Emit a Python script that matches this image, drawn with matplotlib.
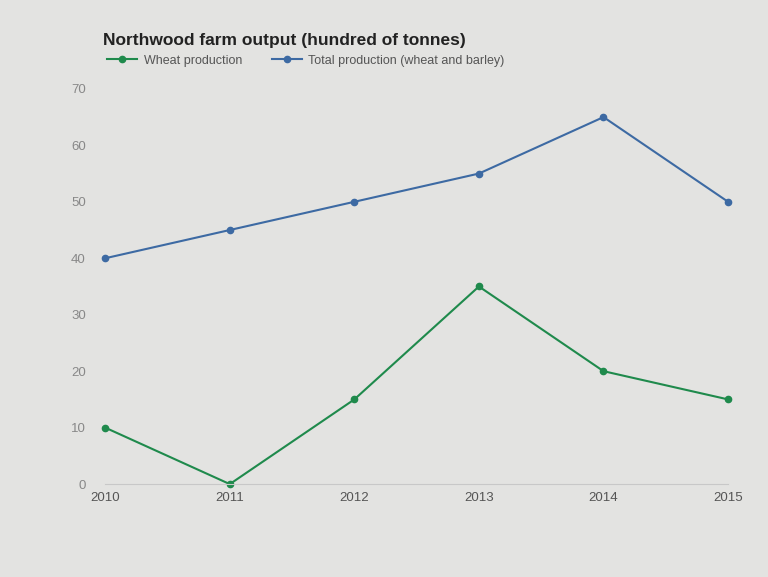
import matplotlib.pyplot as plt
from matplotlib.lines import Line2D

plt.rcParams['font.family'] = ['Liberation Sans', 'DejaVu Sans']

years = [2010, 2011, 2012, 2013, 2014, 2015]
wheat = [10, 0, 15, 35, 20, 15]
total = [40, 45, 50, 55, 65, 50]
yticks = [0, 10, 20, 30, 40, 50, 60, 70]

green = '#1f8a4c'
blue = '#3d6aa3'
bg = '#e3e3e1'

fig = plt.figure(figsize=(7.68, 5.77), dpi=100, facecolor=bg)
ax = fig.add_axes([0.137, 0.161, 0.811, 0.685], facecolor=bg)

ax.plot(years, wheat, color=green, lw=1.5, marker='o', ms=4.5, clip_on=False)
ax.plot(years, total, color=blue, lw=1.5, marker='o', ms=4.5, clip_on=False)

ax.set_xlim(2010, 2015)
ax.set_ylim(0, 70)
ax.set_yticks(yticks)
ax.set_xticks(years)
ax.set_xticklabels([str(y) for y in years])

for s in ['top', 'right', 'left']:
    ax.spines[s].set_visible(False)
ax.spines['bottom'].set_color('#c8c8c8')
ax.tick_params(length=0, labelsize=9.5, colors='#555555')
ax.tick_params(axis='y', pad=14)
ax.tick_params(axis='x', pad=6)
for lab in ax.get_yticklabels():
    lab.set_color('#888888')

fig.text(0.134, 0.93, 'Northwood farm output (hundred of tonnes)',
         fontsize=12.5, fontweight='bold', color='#222222', va='center')

handles = [Line2D([0], [0], color=green, lw=1.5, marker='o', ms=4.5),
           Line2D([0], [0], color=blue, lw=1.5, marker='o', ms=4.5)]
fig.legend(handles, ['Wheat production', 'Total production (wheat and barley)'],
           loc='center left', bbox_to_anchor=(0.125, 0.895), ncol=2, frameon=False,
           fontsize=9, handlelength=2.4, handletextpad=0.5, columnspacing=2.4,
           labelcolor='#555555')

plt.savefig('out.png', dpi=100, facecolor=bg)
